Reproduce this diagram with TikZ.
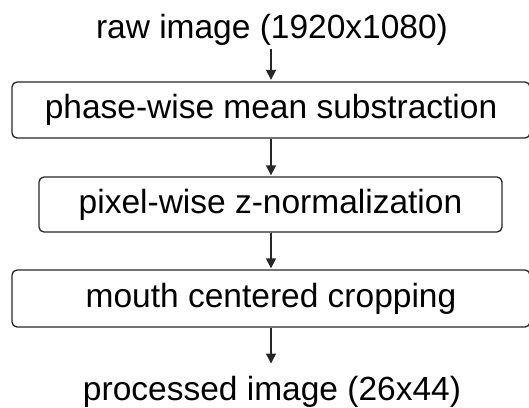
\documentclass[tikz,border=0pt]{standalone}
\usepackage{fontspec}
\setmainfont{Liberation Sans}
\usetikzlibrary{arrows.meta}
\begin{document}
\begin{tikzpicture}[x=1pt,y=-1pt,
  lbl/.style={font=\fontsize{33.5}{40}\selectfont, inner sep=0pt},
  stepbox/.style={draw=black!85, line width=1.3pt, rounded corners=5pt, minimum height=56pt, inner sep=0pt, font=\fontsize{33.5}{40}\selectfont},
  conn/.style={draw=black!85, line width=1.3pt, -{Triangle[width=10pt,length=10pt]}}]
\clip (0,0) rectangle (529,407);
\node[lbl, anchor=base] (raw) at (272,38) {raw image (1920x1080)};
\node[stepbox, minimum width=518pt] (b1) at (271,110) {phase-wise mean substraction};
\node[stepbox, minimum width=463pt, minimum height=55pt] (b2) at (270.5,204.5) {pixel-wise z-normalization};
\node[stepbox, minimum width=518pt, minimum height=57pt] (b3) at (271,298.5) {mouth centered cropping};
\node[lbl, anchor=base] (out) at (272,400) {processed image (26x44)};
\draw[conn, shorten <=4pt, shorten >=1.5pt] (raw.south -| b1.north) -- (b1.north);
\draw[conn, shorten >=1pt] (b1.south) -- (b1.south |- b2.north);
\draw[conn, shorten >=1pt] (b2.south -| b1.south) -- (b3.north);
\draw[conn, shorten >=12pt] (b3.south) -- (b3.south |- out.north);
\end{tikzpicture}
\end{document}
